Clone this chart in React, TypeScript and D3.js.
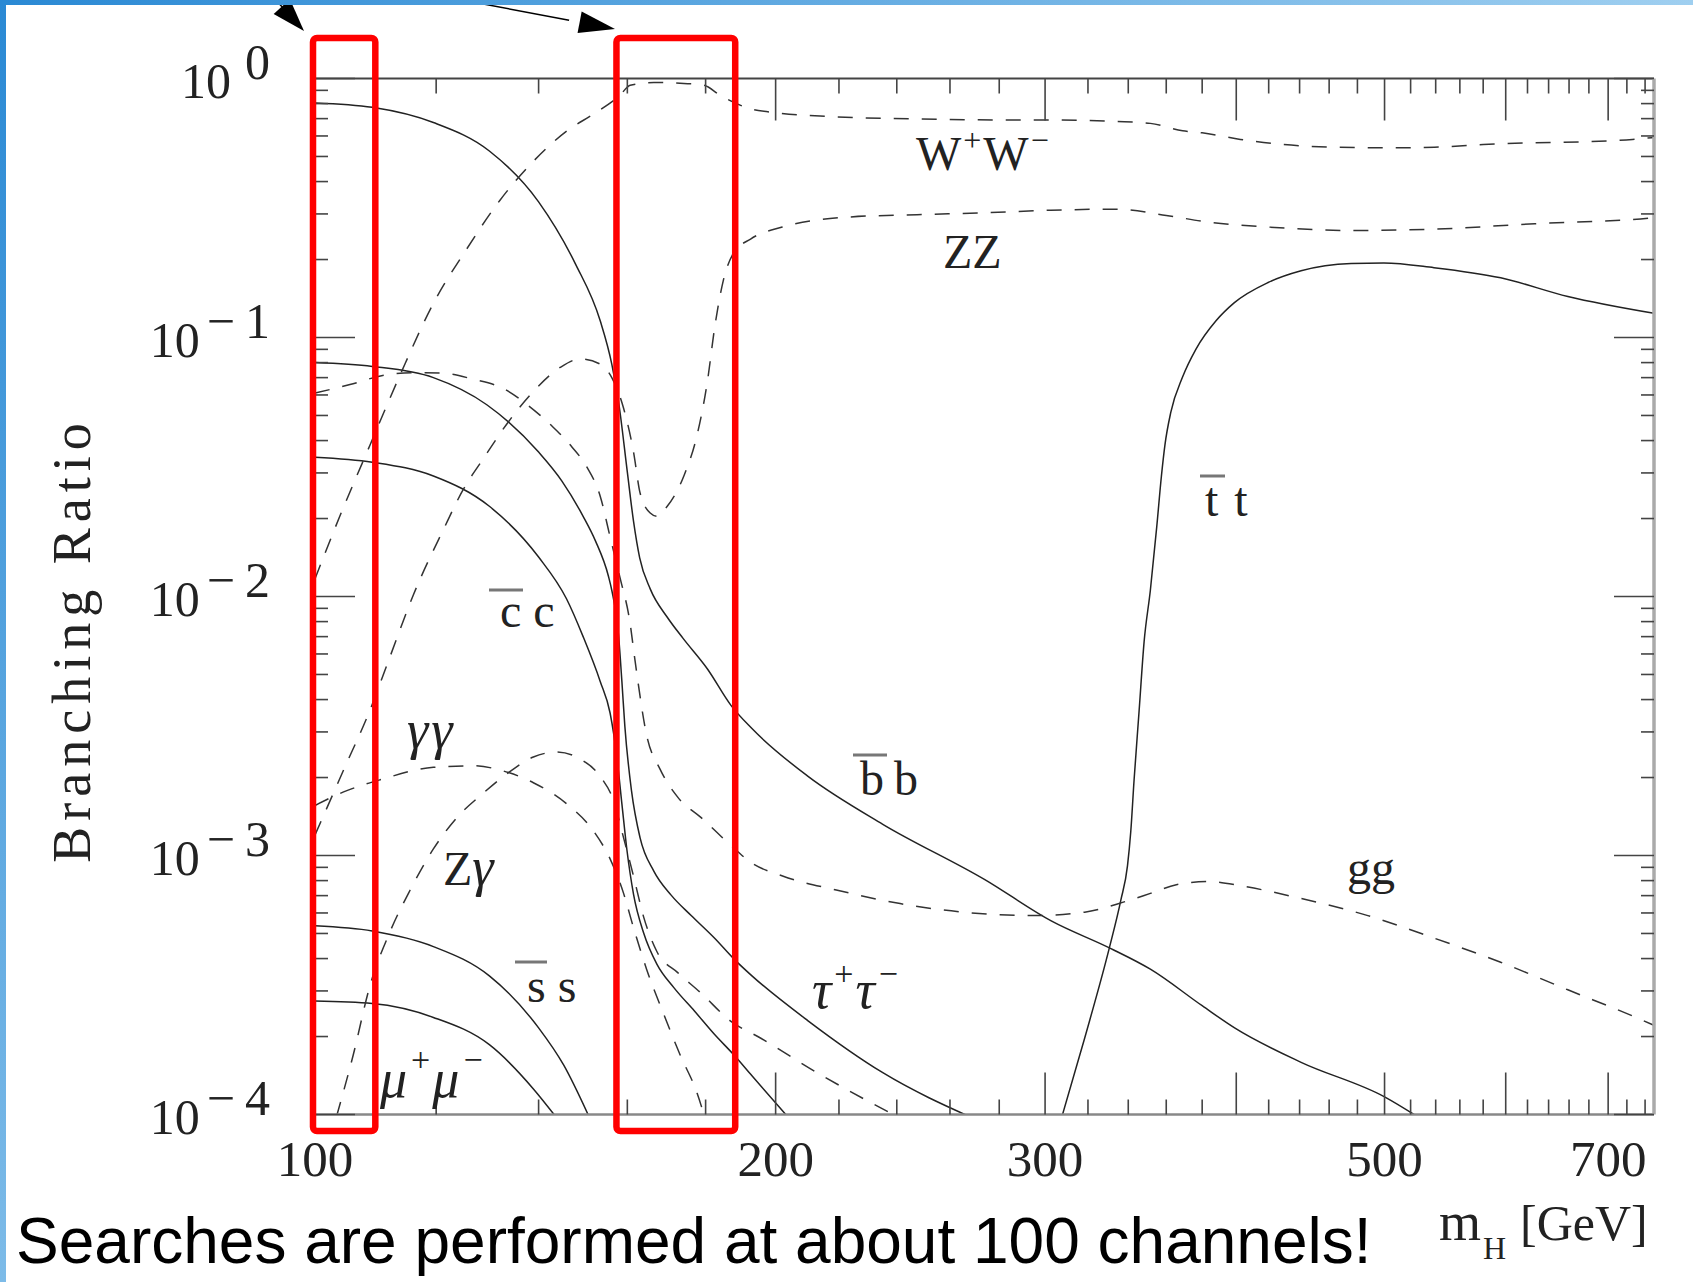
import React, { useEffect } from 'react';
import * as d3 from 'd3';

const WIDTH = 1693;
const HEIGHT = 1282;
const PLOT = { left: 315, right: 1654, top: 78.5, bottom: 1114.5 };

// Higgs mass [GeV] vs branching ratio
const bbData: [number, number][] = [
  [100, 0.805], [109, 0.774], [119.5, 0.676], [130, 0.525], [140, 0.334], [148, 0.192],
  [153.6, 0.116], [156.3, 0.0789], [158, 0.055], [160, 0.0302], [161.5, 0.0195], [163, 0.0141],
  [165.6, 0.0107], [170, 0.00828], [174, 0.00689], [180.5, 0.00525], [187, 0.0038], [193, 0.00309],
  [210, 0.00202], [235, 0.00132], [274, 0.000807], [303, 0.000558], [331, 0.000438], [351.5, 0.000364],
  [380, 0.000263], [399, 0.000216], [441, 0.000159], [500, 0.000117], [530, 0.000095],
];
const tautauData: [number, number][] = [
  [100, 0.080], [109, 0.0773], [119.5, 0.070], [129.5, 0.055], [140, 0.0361], [145, 0.0279],
  [149.7, 0.0204], [152.5, 0.0164], [155.5, 0.0120], [156.3, 0.01057], [157.9, 0.00708], [158.7, 0.00468],
  [159.4, 0.00316], [161, 0.00178], [163.1, 0.00117], [166.5, 0.000871], [170.9, 0.000703],
  [176.2, 0.000585], [182.4, 0.00048], [187.8, 0.000399], [193, 0.000343], [210, 0.00023],
  [235, 0.000145], [270, 0.000096],
];
const ccData: [number, number][] = [
  [100, 0.0345], [109, 0.033], [119.5, 0.0292], [130, 0.0223], [140, 0.0142], [146, 0.0098],
  [149.7, 0.0070], [153.6, 0.0047], [155.9, 0.00355], [157.5, 0.0024], [158.7, 0.00158], [159.9, 0.00105],
  [161.5, 0.000708], [164, 0.000501], [167.3, 0.00038], [171.6, 0.000309], [177, 0.000251],
  [182.4, 0.000204], [187.8, 0.00017], [193, 0.000141], [204, 0.000097],
];
const ssData: [number, number][] = [
  [100, 0.000535], [109, 0.000511], [119.5, 0.000445], [130, 0.000343], [140, 0.000216],
  [145.4, 0.000155], [151, 0.0000984],
];
const mumuData: [number, number][] = [
  [100, 0.000274], [109, 0.000268], [119.5, 0.000237], [130, 0.000186], [139, 0.000125], [143.6, 0.0000984],
];
const ttData: [number, number][] = [
  [305, 0.000082], [318.4, 0.000197], [330.4, 0.000438], [336.2, 0.000671], [339.6, 0.000912],
  [341.3, 0.00124], [343, 0.00196], [345.6, 0.00362], [348.2, 0.00668], [351.5, 0.01057], [354.9, 0.0186],
  [357.4, 0.0292], [359.3, 0.0385], [362.5, 0.0515], [369, 0.0705], [376.4, 0.090], [388, 0.116],
  [398.7, 0.136], [419.6, 0.163], [441, 0.181], [475.5, 0.193], [499.5, 0.194], [538.6, 0.186],
  [595.5, 0.170], [658.8, 0.144], [750, 0.124],
];
const wwData: [number, number][] = [
  [100, 0.0117], [103.8, 0.0204], [108.6, 0.0383], [113.7, 0.072], [119.5, 0.1355], [125.6, 0.219],
  [132.1, 0.339], [138.9, 0.479], [146.1, 0.628], [152.1, 0.730], [158.2, 0.861], [160.7, 0.942],
  [166.5, 0.965], [174.2, 0.957], [179.5, 0.942], [184, 0.861], [192.6, 0.764], [198.5, 0.741],
  [218, 0.712], [247, 0.698], [280, 0.692], [303, 0.692], [334, 0.683], [351.5, 0.671], [369, 0.628],
  [380, 0.617], [402.5, 0.582], [429, 0.556], [464, 0.543], [500, 0.540], [539, 0.543], [580, 0.556],
  [627, 0.565], [675, 0.570], [726, 0.582], [750, 0.592],
];
const zzData: [number, number][] = [
  [100, 0.0012], [104.4, 0.00214], [108.6, 0.00363], [112, 0.0059], [116, 0.0102], [121.3, 0.0181],
  [125, 0.0259], [128.8, 0.034], [133.8, 0.0473], [138.9, 0.0619], [144.6, 0.0766], [149, 0.0826],
  [153.6, 0.0789], [156.3, 0.070], [159.1, 0.0533], [161.5, 0.0361], [163.1, 0.0251], [165.6, 0.021],
  [167.3, 0.0204], [169.9, 0.0223], [174.2, 0.0292], [177.7, 0.042], [180.5, 0.0679], [182.5, 0.11],
  [184.9, 0.167], [187.8, 0.2126], [192.6, 0.24], [202, 0.267], [223.7, 0.292], [247.4, 0.298],
  [273.8, 0.303], [302.6, 0.31], [334.3, 0.313], [360, 0.296], [383.6, 0.279], [419.6, 0.267],
  [475.5, 0.259], [538.6, 0.262], [626.8, 0.275], [735, 0.287], [750, 0.29],
];
const ggData: [number, number][] = [
  [100, 0.061], [105.4, 0.0658], [111.1, 0.0716], [116, 0.0731], [121, 0.0729], [126.9, 0.069],
  [132.8, 0.0635], [137.9, 0.0545], [142.8, 0.0456], [147.2, 0.0378], [150.6, 0.0315], [153.6, 0.0244],
  [155.9, 0.017], [158.2, 0.0119], [160.6, 0.00800], [161.9, 0.00560], [164.7, 0.00292], [168.1, 0.00215],
  [172.6, 0.00168], [178.8, 0.0014], [186.8, 0.0011], [192.6, 0.000942], [202.1, 0.000833],
  [219.1, 0.000736], [241.2, 0.000652], [265.5, 0.000604], [295, 0.000586], [318.4, 0.000604],
  [337.9, 0.000662], [351.5, 0.000714], [365.5, 0.000771], [383.6, 0.000794], [404.6, 0.00076],
  [441.1, 0.000682], [487.6, 0.000586], [538.6, 0.00048], [595.5, 0.000387], [658.8, 0.000303],
  [730, 0.000237], [750, 0.000221],
];
const gamgamData: [number, number][] = [
  [100, 0.00156], [104.4, 0.00176], [110.3, 0.00196], [119.5, 0.00219], [126.9, 0.00222],
  [133.8, 0.00209], [138.9, 0.00191], [146.1, 0.00158], [152.1, 0.00124], [155.9, 0.00097],
  [159.1, 0.000714], [161.5, 0.000526], [164.7, 0.000364], [169, 0.000244], [173.3, 0.000169],
  [177.7, 0.000121], [180, 0.000095],
];
const zgamData: [number, number][] = [
  [103.3, 0.0000984], [105.9, 0.000169], [108.6, 0.000313], [112, 0.000511], [115.4, 0.000736],
  [119.5, 0.00106], [123.8, 0.0014], [128.8, 0.00174], [133.8, 0.00209], [138.9, 0.0024],
  [143.8, 0.00251], [149, 0.00236], [153.6, 0.00202], [156.7, 0.00163], [159.1, 0.00117],
  [161.5, 0.000832], [164, 0.000577], [167.3, 0.000425], [172.6, 0.000353], [178.8, 0.000294],
  [186.8, 0.00023], [195.6, 0.000197], [212.9, 0.000145], [241, 0.000097],
];

const solidSeries = [bbData, tautauData, ccData, ssData, mumuData, ttData];
const dashedSeries = [wwData, zzData, ggData, gamgamData, zgamData];

const xTickValues = d3.range(120, 741, 20);
const xTickLabels = [100, 200, 300, 500, 700];
const yDecades = [0, -1, -2, -3, -4];
const yExponentText = ['0', '\u2212\u20091', '\u2212\u20092', '\u2212\u20093', '\u2212\u20094'];
const highlightRanges: [number, number][] = [[99.7, 109.5], [157.4, 188.2]];

const SERIF = "'Liberation Serif', 'Times New Roman', serif";
const INK = '#222';

function arrowHead(x0: number, y0: number, x1: number, y1: number, len: number, half: number) {
  const dx = x1 - x0, dy = y1 - y0;
  const L = Math.hypot(dx, dy);
  const ux = dx / L, uy = dy / L;
  const bx = x1 - ux * len, by = y1 - uy * len;
  const px = -uy * half, py = ux * half;
  return `${x1},${y1} ${bx + px},${by + py} ${bx - px},${by - py}`;
}

export default function App() {
  useEffect(() => {
    document.body.style.margin = '0';
  }, []);

  const x = d3.scaleLog().domain([100, 750]).range([PLOT.left, PLOT.right]);
  const y = d3.scaleLog().domain([1e-4, 1]).range([PLOT.bottom, PLOT.top]);
  const line = d3
    .line<[number, number]>()
    .x((d) => x(d[0]))
    .y((d) => y(d[1]))
    .curve(d3.curveMonotoneX);

  const yMinor: number[] = [];
  for (let k = -4; k <= -1; k++) for (let j = 2; j <= 9; j++) yMinor.push(j * Math.pow(10, k));

  const arrows = [
    { x0: 274, y0: -2, x1: 304, y1: 31, len: 33, half: 11 },
    { x0: 462, y0: 0, x1: 615, y1: 29, len: 36, half: 11 },
  ];

  return (
    <svg
      width={WIDTH}
      height={HEIGHT}
      viewBox={`0 0 ${WIDTH} ${HEIGHT}`}
      style={{ position: 'absolute', left: 0, top: 0, display: 'block', background: '#fff' }}
    >
      <defs>
        <linearGradient id="topbar" x1="0" x2="1" y1="0" y2="0">
          <stop offset="0" stopColor="#2a89d4" />
          <stop offset="1" stopColor="#9fcff0" />
        </linearGradient>
        <linearGradient id="leftbar" x1="0" x2="0" y1="0" y2="1">
          <stop offset="0" stopColor="#2a89d4" />
          <stop offset="1" stopColor="#7dbbe8" />
        </linearGradient>
        <clipPath id="plotclip">
          <rect x={PLOT.left} y={PLOT.top} width={PLOT.right - PLOT.left} height={PLOT.bottom - PLOT.top} />
        </clipPath>
      </defs>
      <rect x={0} y={0} width={WIDTH} height={HEIGHT} fill="#fff" />

      {/* curves */}
      <g clipPath="url(#plotclip)" fill="none">
        {solidSeries.map((s, i) => (
          <path key={'s' + i} d={line(s) || ''} stroke={INK} strokeWidth={1.5} />
        ))}
        {dashedSeries.map((s, i) => (
          <path key={'d' + i} d={line(s) || ''} stroke="#333" strokeWidth={1.5} strokeDasharray="15 13" />
        ))}
      </g>

      {/* frame */}
      <line x1={PLOT.left} x2={PLOT.right} y1={PLOT.top} y2={PLOT.top} stroke="#444" strokeWidth={2} />
      <line x1={PLOT.left} x2={PLOT.right} y1={PLOT.bottom} y2={PLOT.bottom} stroke="#888" strokeWidth={2.5} />
      <line x1={PLOT.left} x2={PLOT.left} y1={PLOT.top} y2={PLOT.bottom} stroke="#666" strokeWidth={2} />
      <line x1={PLOT.right} x2={PLOT.right} y1={PLOT.top} y2={PLOT.bottom} stroke="#aaa" strokeWidth={3.5} />

      {/* x ticks */}
      {xTickValues.map((v) => {
        const major = v % 100 === 0;
        const len = major ? 42 : 15;
        const xx = x(v);
        return (
          <g key={'xt' + v} stroke="#444" strokeWidth={1.6}>
            <line x1={xx} x2={xx} y1={PLOT.top} y2={PLOT.top + len} />
            <line x1={xx} x2={xx} y1={PLOT.bottom} y2={PLOT.bottom - len} />
          </g>
        );
      })}
      {/* y ticks */}
      {yDecades.map((k) => {
        const yy = y(Math.pow(10, k));
        return (
          <g key={'ymaj' + k} stroke="#444" strokeWidth={1.6}>
            <line x1={PLOT.left} x2={PLOT.left + 40} y1={yy} y2={yy} />
            <line x1={PLOT.right} x2={PLOT.right - 40} y1={yy} y2={yy} />
          </g>
        );
      })}
      {yMinor.map((v) => {
        const yy = y(v);
        return (
          <g key={'ymin' + v} stroke="#444" strokeWidth={1.6}>
            <line x1={PLOT.left} x2={PLOT.left + 13} y1={yy} y2={yy} />
            <line x1={PLOT.right} x2={PLOT.right - 13} y1={yy} y2={yy} />
          </g>
        );
      })}

      {/* tick labels */}
      {xTickLabels.map((v) => (
        <text key={'xl' + v} x={x(v)} y={1176} fontSize={51} fontFamily={SERIF} fill={INK} textAnchor="middle">
          {v}
        </text>
      ))}
      {yDecades.map((k, i) => (
        <text
          key={'yl' + k}
          x={270}
          y={y(Math.pow(10, k)) + 19}
          fontSize={50}
          fontFamily={SERIF}
          fill={INK}
          textAnchor="end"
        >
          10
          <tspan dx={k === 0 ? 14 : 7} dy={-19}>
            {yExponentText[i]}
          </tspan>
        </text>
      ))}

      {/* axis titles */}
      <text
        transform="translate(90,640) rotate(-90)"
        fontSize={54}
        fontFamily={SERIF}
        fill={INK}
        textAnchor="middle"
        letterSpacing={6}
      >
        Branching Ratio
      </text>
      <text x={1439} y={1240} fontSize={54} fontFamily={SERIF} fill={INK}>
        m
      </text>
      <text x={1483} y={1259} fontSize={32} fontFamily={SERIF} fill={INK}>
        H
      </text>
      <text x={1520} y={1240} fontSize={50} fontFamily={SERIF} fill={INK}>
        [GeV]
      </text>

      {/* curve labels */}
      <g fontFamily={SERIF} fill={INK} fontSize={48}>
        <text x={916} y={170}>
          W<tspan dx={2} dy={-19} fontSize={32}>+</tspan>
          <tspan dx={2} dy={19}>W</tspan>
          <tspan dx={2} dy={-19} fontSize={32}>{'\u2212'}</tspan>
        </text>
        <text x={943} y={268}>ZZ</text>
        <text x={1205} y={516}>
          t<tspan dx={16}>t</tspan>
        </text>
        <text x={500} y={627}>
          c<tspan dx={12}>c</tspan>
        </text>
        <text x={860} y={795}>
          b<tspan dx={10}>b</tspan>
        </text>
        <text x={527} y={1002}>
          s<tspan dx={12}>s</tspan>
        </text>
        <text x={407} y={748} fontStyle="italic" fontSize={54} letterSpacing={3}>
          γγ
        </text>
        <text x={443} y={885}>
          Z<tspan fontStyle="italic" fontSize={54}>γ</tspan>
        </text>
        <text x={380} y={1097} fontStyle="italic" fontSize={54}>
          μ<tspan dx={4} dy={-26} fontSize={34} fontStyle="normal">+</tspan>
          <tspan dx={2} dy={26}>μ</tspan>
          <tspan dx={4} dy={-26} fontSize={34} fontStyle="normal">{'\u2212'}</tspan>
        </text>
        <text x={812} y={1008} fontStyle="italic" fontSize={54}>
          τ<tspan dx={3} dy={-23} fontSize={34} fontStyle="normal">+</tspan>
          <tspan dx={2} dy={23}>τ</tspan>
          <tspan dx={4} dy={-23} fontSize={34} fontStyle="normal">{'\u2212'}</tspan>
        </text>
        <text x={1347} y={884}>gg</text>
      </g>
      {/* overbars for antiparticles */}
      <g stroke="#777" strokeWidth={3}>
        <line x1={1200} x2={1225} y1={476} y2={476} />
        <line x1={489} x2={523} y1={590} y2={590} />
        <line x1={853} x2={887} y1={755} y2={755} />
        <line x1={515} x2={547} y1={962} y2={962} />
      </g>

      {/* highlight boxes */}
      {highlightRanges.map((r, i) => (
        <rect
          key={'hb' + i}
          x={x(r[0])}
          y={38}
          width={x(r[1]) - x(r[0])}
          height={1093}
          rx={4}
          fill="none"
          stroke="#ff0000"
          strokeWidth={6.5}
        />
      ))}

      {/* arrows */}
      {arrows.map((a, i) => (
        <g key={'ar' + i}>
          <line x1={a.x0} y1={a.y0} x2={a.x1 - (a.x1 - a.x0) * 0.3} y2={a.y1 - (a.y1 - a.y0) * 0.3} stroke="#000" strokeWidth={1.5} />
          <polygon points={arrowHead(a.x0, a.y0, a.x1, a.y1, a.len, a.half)} fill="#000" />
        </g>
      ))}

      {/* slide frame */}
      <rect x={0} y={0} width={WIDTH} height={5} fill="url(#topbar)" />
      <rect x={0} y={0} width={6} height={HEIGHT} fill="url(#leftbar)" />

      {/* caption */}
      <text x={16} y={1263} fontSize={64} fontFamily="'Liberation Sans', Arial, sans-serif" fill="#000">
        Searches are performed at about 100 channels!
      </text>
    </svg>
  );
}
